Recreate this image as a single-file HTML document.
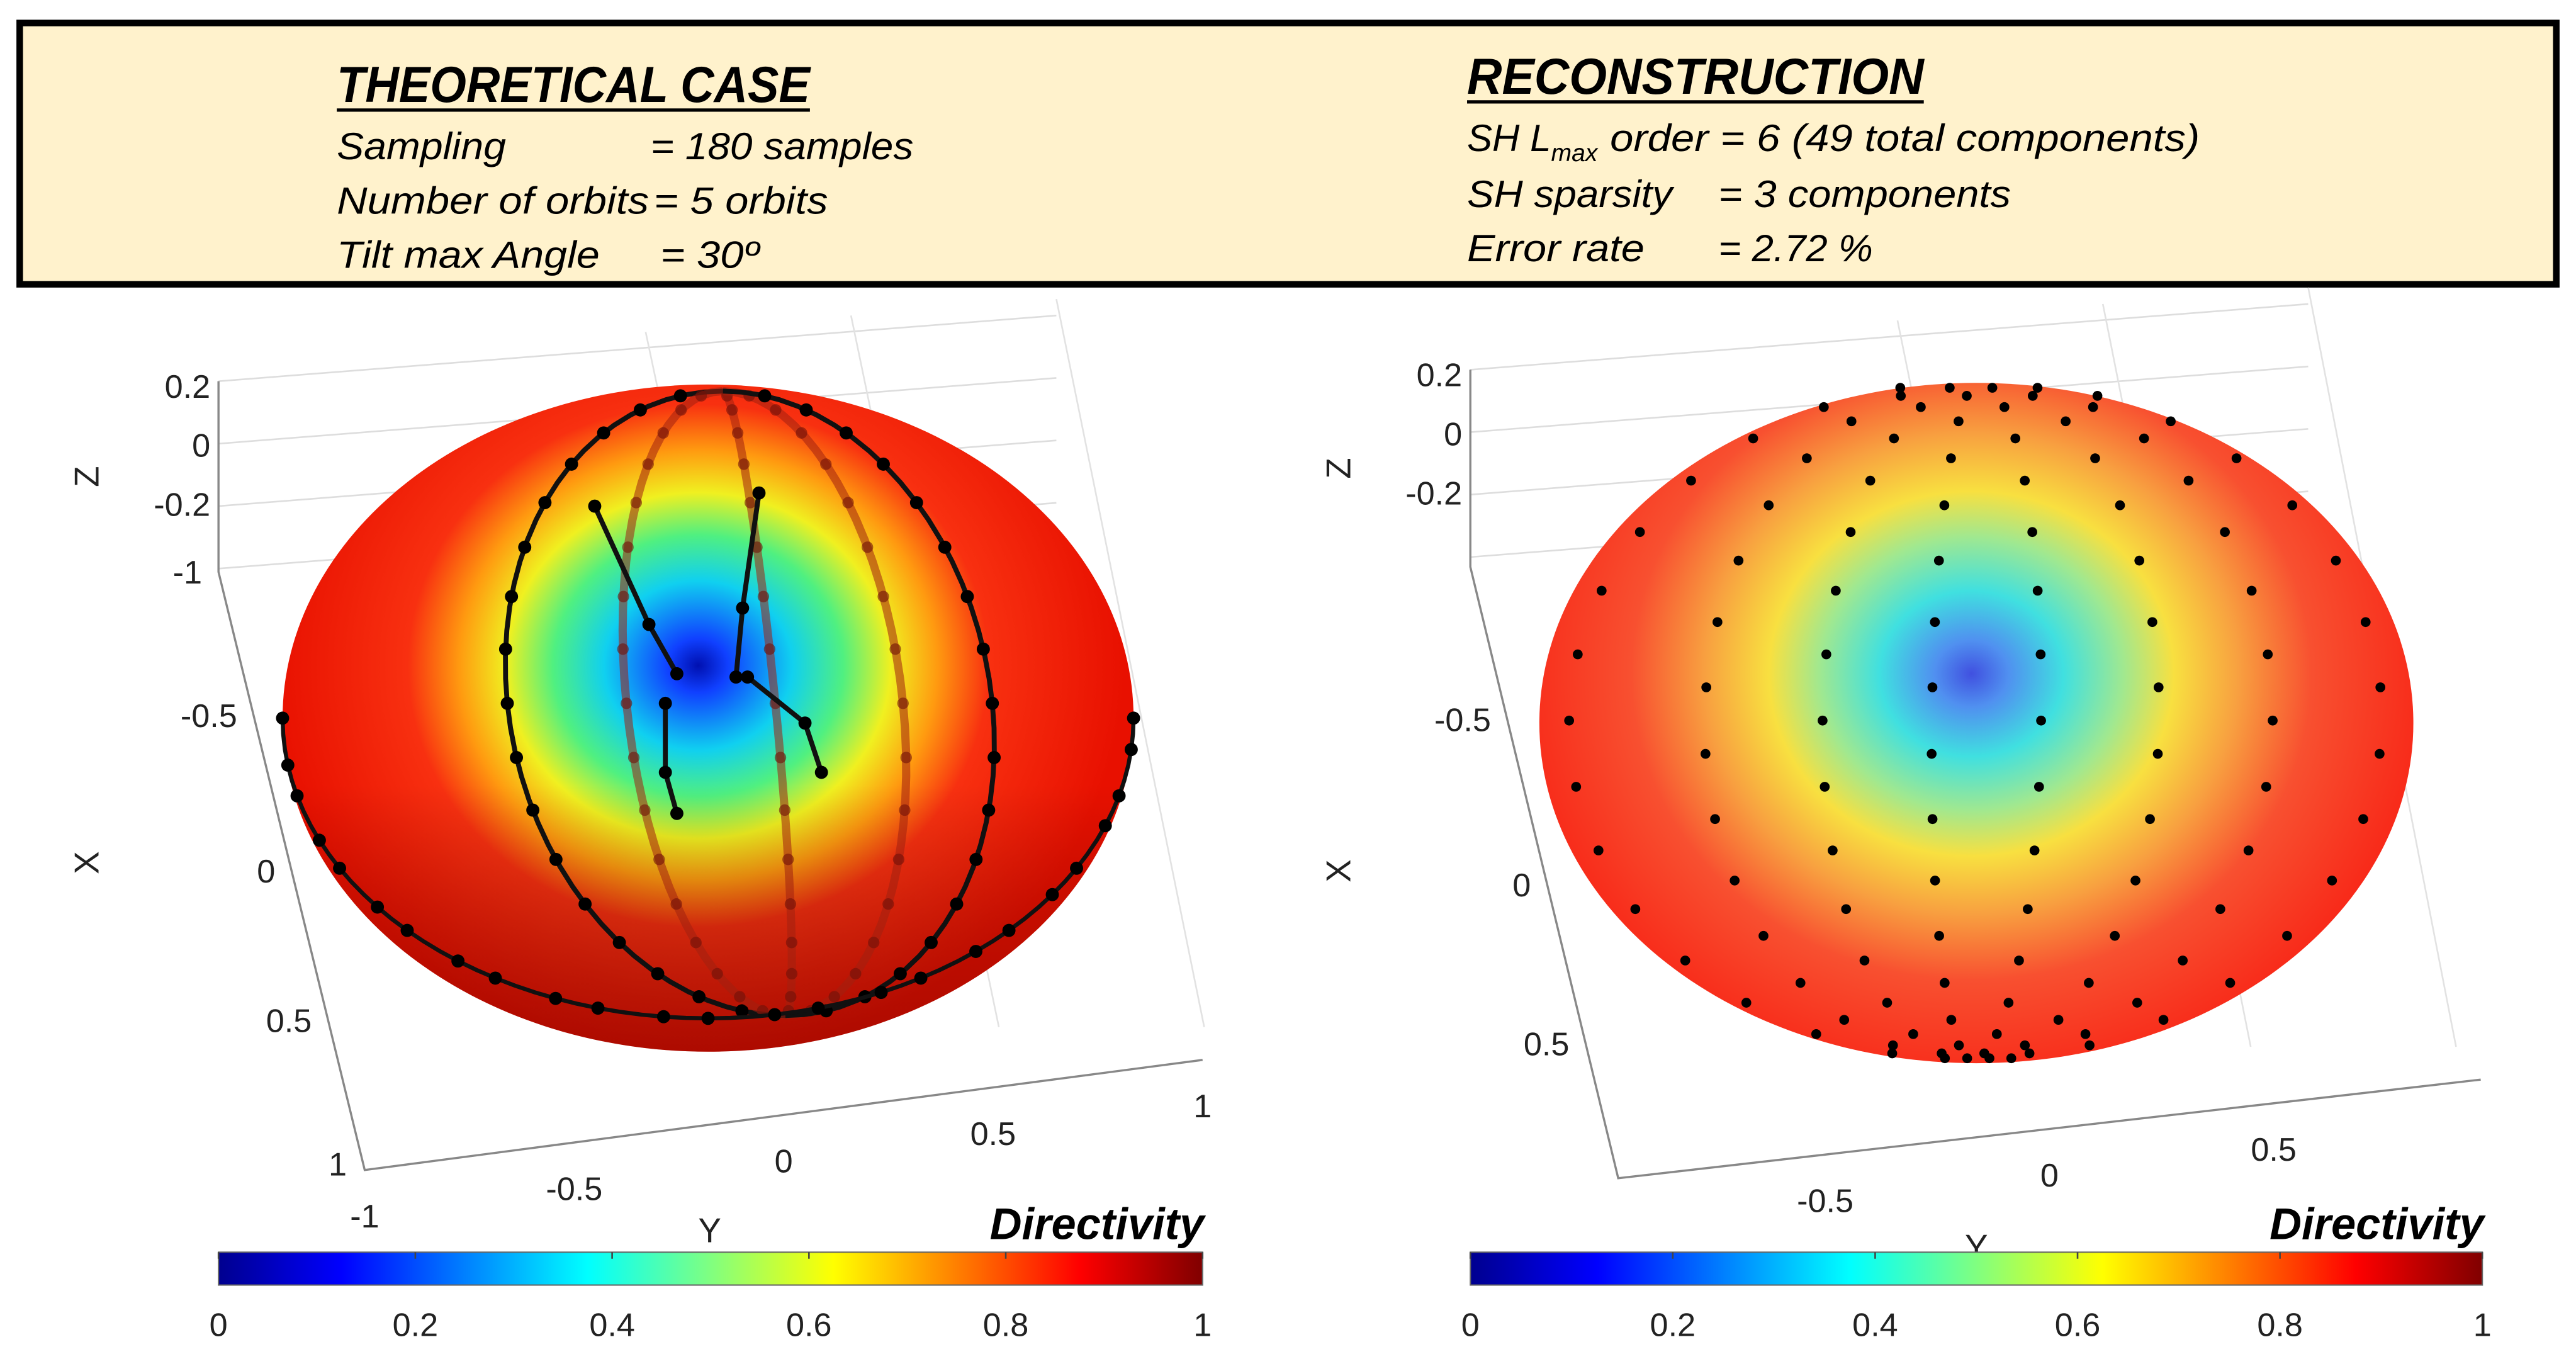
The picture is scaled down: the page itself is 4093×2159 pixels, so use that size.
<!DOCTYPE html>
<html><head><meta charset="utf-8">
<style>
html,body{margin:0;padding:0;background:#fff;}
svg{display:block;}
text{font-family:"Liberation Sans Narrow","Liberation Sans",sans-serif;}
</style></head>
<body>
<svg id="fig" width="4093" height="2159" viewBox="0 0 1568 827" preserveAspectRatio="none" xmlns="http://www.w3.org/2000/svg">
<defs>
<linearGradient id="jet" x1="0" x2="1" y1="0" y2="0">
<stop offset="0" stop-color="#00008f"/><stop offset="0.125" stop-color="#0000ff"/>
<stop offset="0.375" stop-color="#00ffff"/><stop offset="0.5" stop-color="#80ff80"/>
<stop offset="0.625" stop-color="#ffff00"/><stop offset="0.875" stop-color="#ff0000"/>
<stop offset="1" stop-color="#800000"/></linearGradient>
<radialGradient id="fieldL" gradientUnits="userSpaceOnUse" cx="425" cy="405" r="260" gradientTransform="translate(425 405) scale(1 0.9) translate(-425 -405)">
<stop offset="0" stop-color="#0010b0"/><stop offset="0.07" stop-color="#1040ff"/>
<stop offset="0.22" stop-color="#10d0f0"/><stop offset="0.34" stop-color="#50f080"/>
<stop offset="0.45" stop-color="#f0f020"/><stop offset="0.56" stop-color="#ff9a10"/>
<stop offset="0.68" stop-color="#f83010"/><stop offset="1" stop-color="#e81000"/></radialGradient>
<radialGradient id="fieldR" gradientUnits="userSpaceOnUse" cx="1200" cy="410" r="280" gradientTransform="translate(1200 410) scale(1 0.9) translate(-1200 -410)">
<stop offset="0" stop-color="#4050e0"/><stop offset="0.08" stop-color="#5090f0"/>
<stop offset="0.2" stop-color="#40e0e0"/><stop offset="0.33" stop-color="#a0e890"/>
<stop offset="0.44" stop-color="#f8e040"/><stop offset="0.58" stop-color="#f8a040"/>
<stop offset="0.74" stop-color="#f85030"/><stop offset="1" stop-color="#f82818"/></radialGradient>
<linearGradient id="shadeL" x1="0" y1="0" x2="0" y2="1">
<stop offset="0.6" stop-color="#000" stop-opacity="0"/><stop offset="1" stop-color="#400000" stop-opacity="0.35"/></linearGradient>
</defs>
<g id="header">
<rect x="12" y="14" width="1544" height="159" fill="#fff2cc" stroke="#000" stroke-width="4"/>
<text x="205" y="62" font-size="31" font-weight="bold" font-style="italic" textLength="288" lengthAdjust="spacingAndGlyphs">THEORETICAL CASE</text>
<line x1="205" y1="67" x2="493" y2="67" stroke="#000" stroke-width="2"/>
<g font-size="23" font-style="italic">
<text x="205" y="97" textLength="103" lengthAdjust="spacingAndGlyphs">Sampling</text>
<text x="396" y="97" textLength="160" lengthAdjust="spacingAndGlyphs">= 180 samples</text>
<text x="205" y="130" textLength="190" lengthAdjust="spacingAndGlyphs">Number of orbits</text>
<text x="398" y="130" textLength="106" lengthAdjust="spacingAndGlyphs">= 5 orbits</text>
<text x="205" y="163" textLength="160" lengthAdjust="spacingAndGlyphs">Tilt max Angle</text>
<text x="402" y="163" textLength="60" lengthAdjust="spacingAndGlyphs">= 30º</text>
</g>
<text x="893" y="57" font-size="31" font-weight="bold" font-style="italic" textLength="278" lengthAdjust="spacingAndGlyphs">RECONSTRUCTION</text>
<line x1="893" y1="62" x2="1171" y2="62" stroke="#000" stroke-width="2"/>
<g font-size="23" font-style="italic">
<text x="893" y="92">SH L<tspan font-size="15" dy="6">max</tspan></text>
<text x="980" y="92" textLength="359" lengthAdjust="spacingAndGlyphs">order = 6  (49 total components)</text>
<text x="893" y="126" textLength="125" lengthAdjust="spacingAndGlyphs">SH sparsity</text>
<text x="1046" y="126" textLength="178" lengthAdjust="spacingAndGlyphs">= 3 components</text>
<text x="893" y="159" textLength="108" lengthAdjust="spacingAndGlyphs">Error rate</text>
<text x="1046" y="159" textLength="94" lengthAdjust="spacingAndGlyphs">= 2.72 %</text>
</g>
</g>
<g id="left"></g>
<g id="right"></g>
</svg>
<script>
const NS='http://www.w3.org/2000/svg';
const cbTicks=[0,0.2,0.4,0.6,0.8,1];
const zTicks=['0.2','0','-0.2'];
const xTicksL=['-1','-0.5','0','0.5','1'];
const yTicksL=['-1','-0.5','0','0.5','1'];
const xTicksR=['-0.5','0','0.5'];
const yTicksR=['-0.5','0','0.5'];
const orbitLonsL=[-0.58,-0.3,0.05,0.35,0.56];
const orbitFrontL=[1,0,0,0,1];
const orbitLonsR=[-0.93,-0.62,-0.35,-0.1,0.15,0.42,0.68,0.93];
function el(p,tag,a,txt){const e=document.createElementNS(NS,tag);for(const k in a)e.setAttribute(k,a[k]);if(txt!==undefined)e.textContent=txt;p.appendChild(e);return e;}
function panel(g,o){
  for(let i=0;i<4;i++){const y=o.zTop+i*38;const l=el(g,'line',{x1:o.zx,y1:y,x2:o.zx+510,y2:y-40,stroke:'#ddd','stroke-width':1});
  }
  for(let i=0;i<3;i++){const x=o.zx+260+i*125;const l=el(g,'line',{x1:x,y1:o.zTop-30+i*(-10),x2:x+90,y2:o.by1-20,stroke:'#e2e2e2','stroke-width':1});
  }
  const ax=el(g,'polyline',{points:`${o.zx},${o.zTop} ${o.zx},${o.zBot} ${o.bx0},${o.by0} ${o.bx1},${o.by1}`,fill:'none',stroke:'#888','stroke-width':1.3});
  
  const sp=el(g,'ellipse',{cx:o.cx,cy:o.cy,rx:o.rx,ry:o.ry,fill:o.fill});
  
  if(o.shade){const s=el(g,'ellipse',{cx:o.cx,cy:o.cy,rx:o.rx,ry:o.ry,fill:o.shade});}
  zTicks.forEach((t,i)=>{const y=o.zTop+3+i*36;const tx=el(g,'text',{x:o.zx-5,y:y+7,'font-size':20,'text-anchor':'end',fill:'#222'},t);
  });
  o.xT.forEach((t,i)=>{const f=o.xF[i];const x=o.zx+(o.bx0-o.zx)*f,y=o.zBot+(o.by0-o.zBot)*f;
  const tx=el(g,'text',{x:x-10,y:y+7,'font-size':20,'text-anchor':'end',fill:'#222'},t);});
  o.yT.forEach((t,i)=>{const f=o.yF[i];const x=o.bx0+(o.bx1-o.bx0)*f,y=o.by0+(o.by1-o.by0)*f;
  const tx=el(g,'text',{x:x,y:y+35,'font-size':20,'text-anchor':'middle',fill:'#222'},t);});
  const lz=el(g,'text',{x:o.labX,y:o.zLabY,'font-size':21,'text-anchor':'middle',transform:`rotate(-90 ${o.labX} ${o.zLabY})`,fill:'#222'},'Z');
  const lx=el(g,'text',{x:o.labX,y:o.xLabY,'font-size':21,'text-anchor':'middle',transform:`rotate(-90 ${o.labX} ${o.xLabY})`,fill:'#222'},'X');
  const ly=el(g,'text',{x:o.yLabX,y:o.yLabY,'font-size':21,'text-anchor':'middle',fill:'#222'},'Y');
  const cb=el(g,'rect',{x:o.cb0,y:762,width:o.cb1-o.cb0,height:20,fill:'url(#jet)',stroke:'#666','stroke-width':0.8});
  
  cbTicks.forEach(v=>{const x=o.cb0+(o.cb1-o.cb0)*v;el(g,'line',{x1:x,y1:762,x2:x,y2:766,stroke:'#444'});
  const tx=el(g,'text',{x:x,y:813,'font-size':20,'text-anchor':'middle',fill:'#222'},String(v));});
  const dt=el(g,'text',{x:o.cb1+1,y:754,'font-size':27,'font-weight':'bold','font-style':'italic','text-anchor':'end'},'Directivity');
  
}
function merid(o,lon,t){const f=(1-Math.cos(t))/2;const bx=o.p1[0]+(o.p2[0]-o.p1[0])*f,by=o.p1[1]+(o.p2[1]-o.p1[1])*f;
  return [bx+o.rx*Math.sin(t)*lon, by];}
const L={cx:431,cy:437,rx:259,ry:203,fill:'url(#fieldL)',shade:'url(#shadeL)',zx:133,zTop:232,zBot:348,bx0:222,by0:712,bx1:732,by1:645,
  xT:xTicksL,xF:[0.0,0.24,0.5,0.75,0.99],yT:yTicksL,yF:[0.0,0.25,0.5,0.75,1.0],labX:60,zLabY:290,xLabY:525,yLabX:432,yLabY:756,cb0:133,cb1:732,p1:[440,238],p2:[478,618]};
const R={cx:1203,cy:440,rx:266,ry:207,fill:'url(#fieldR)',zx:895,zTop:225,zBot:345,bx0:985,by0:717,bx1:1510,by1:657,
  xT:xTicksR,xF:[0.25,0.52,0.78],yT:yTicksR,yF:[0.24,0.5,0.76],labX:822,zLabY:285,xLabY:530,yLabX:1203,yLabY:766,cb0:895,cb1:1511,p1:[1205,232],p2:[1200,645]};
const gl=document.getElementById('left'),gr=document.getElementById('right');
panel(gl,L);panel(gr,R);
orbitLonsL.forEach((lon,k)=>{let pts=[];for(let i=0;i<=40;i++){pts.push(merid(L,lon,Math.PI*i/40));}
  const front=orbitFrontL[k];
  const pl=el(gl,'polyline',{points:pts.map(p=>p.join(',')).join(' '),fill:'none',stroke:front?'#111':'#a02010','stroke-width':front?3:5,'stroke-opacity':front?1:0.55});
  
  for(let i=1;i<18;i++){const p=merid(L,lon,Math.PI*i/18);const c=el(gl,'circle',{cx:p[0],cy:p[1],r:front?4:3.5,fill:front?'#000':'#701008','fill-opacity':front?1:0.6});
  }
});
{let pts=[];for(let i=0;i<=60;i++){const a=Math.PI*i/60;pts.push([L.cx-L.rx*Math.cos(a),L.cy+L.ry*Math.sin(a)*0.9]);}
 const pl=el(gl,'polyline',{points:pts.map(p=>p.join(',')).join(' '),fill:'none',stroke:'#111','stroke-width':2.5});
 
 for(let i=0;i<=24;i++){const p=pts[Math.round(i*2.5)];const c=el(gl,'circle',{cx:p[0],cy:p[1],r:4,fill:'#000'});}}
[[[362,308],[395,380],[412,410]],[[462,300],[452,370],[448,412]],[[405,428],[405,470],[412,495]],[[455,412],[490,440],[500,470]]].forEach(seg=>{
 const pl=el(gl,'polyline',{points:seg.map(p=>p.join(',')).join(' '),fill:'none',stroke:'#111','stroke-width':3});
 
 seg.forEach(p=>{const c=el(gl,'circle',{cx:p[0],cy:p[1],r:4,fill:'#000'});});});
orbitLonsR.forEach((lon,k)=>{for(let i=1;i<16;i++){const t=Math.PI*(i+(k%2)*0.5)/16;const p=merid(R,lon,t);
 const c=el(gr,'circle',{cx:p[0],cy:p[1],r:3,fill:'#000'});}});
</script>
</body></html>
